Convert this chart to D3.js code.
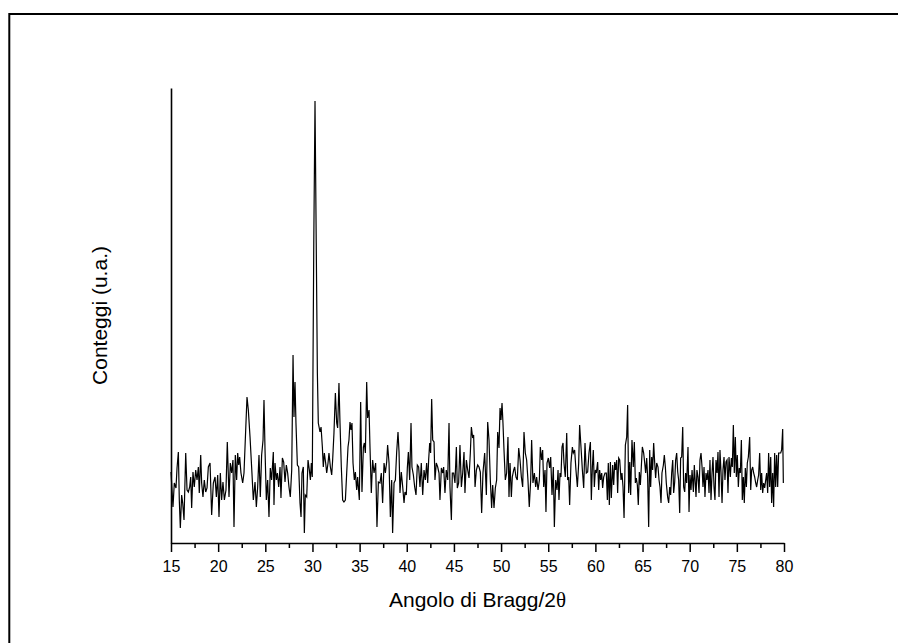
<!DOCTYPE html>
<html>
<head>
<meta charset="utf-8">
<script src="https://cdn.jsdelivr.net/npm/d3@7"></script>
<style>
  body { margin: 0; background: #fff; }
  svg { display: block; font-family: Arial, "Liberation Sans", sans-serif; }
</style>
</head>
<body>
<svg id="svg1" width="898" height="643"></svg>
<script>
// XRD pattern (2theta in degrees, counts in arbitrary units)
var twoTheta = [
  15.00,15.21,15.35,15.53,15.64,15.78,15.88,15.99,16.13,16.24,16.38,16.56,16.70,16.84,16.98,17.09,17.19,17.33,17.47,17.62,
  17.76,17.90,18.00,18.15,18.25,18.39,18.53,18.68,18.82,18.96,19.14,19.31,19.49,19.67,19.81,19.95,20.09,20.23,20.37,20.51,
  20.66,20.83,20.97,21.15,21.29,21.43,21.57,21.68,21.82,21.96,22.07,22.18,22.28,22.42,22.60,22.74,22.92,23.06,23.20,23.38,
  23.55,23.73,23.91,24.05,24.19,24.33,24.47,24.61,24.76,24.86,24.97,25.11,25.25,25.39,25.53,25.67,25.85,25.92,26.03,26.17,
  26.28,26.42,26.56,26.66,26.81,26.95,27.09,27.23,27.37,27.51,27.65,27.80,27.94,28.04,28.15,28.25,28.40,28.54,28.68,28.79,
  28.89,29.03,29.14,29.24,29.39,29.53,29.67,29.78,29.88,29.98,30.14,30.27,30.40,30.52,30.62,30.80,30.91,31.05,31.15,31.26,
  31.40,31.51,31.65,31.75,31.90,32.04,32.14,32.28,32.43,32.57,32.67,32.81,32.92,33.06,33.20,33.34,33.49,33.63,33.77,33.87,
  33.98,34.09,34.19,34.30,34.44,34.55,34.69,34.79,34.97,35.11,35.25,35.40,35.50,35.61,35.75,35.85,36.00,36.10,36.24,36.38,
  36.53,36.70,36.84,36.99,37.16,37.30,37.44,37.59,37.73,37.87,37.97,38.12,38.26,38.40,38.50,38.65,38.79,38.93,39.07,39.18,
  39.28,39.42,39.57,39.71,39.81,39.95,40.06,40.17,40.31,40.45,40.55,40.70,40.84,40.98,41.12,41.26,41.40,41.54,41.69,41.83,
  41.97,42.11,42.22,42.32,42.43,42.53,42.64,42.75,42.89,42.99,43.13,43.28,43.42,43.52,43.67,43.81,43.91,44.05,44.19,44.34,
  44.48,44.58,44.73,44.83,44.97,45.11,45.26,45.36,45.50,45.64,45.79,45.93,46.07,46.17,46.32,46.46,46.60,46.74,46.85,46.99,
  47.09,47.24,47.38,47.52,47.66,47.80,47.94,48.08,48.26,48.44,48.58,48.72,48.86,49.00,49.11,49.25,49.39,49.53,49.64,49.78,
  49.89,49.99,50.10,50.20,50.31,50.45,50.59,50.73,50.84,50.95,51.09,51.19,51.34,51.44,51.58,51.72,51.87,52.01,52.15,52.29,
  52.43,52.57,52.71,52.85,52.99,53.14,53.24,53.38,53.53,53.67,53.77,53.92,54.06,54.16,54.30,54.41,54.52,54.66,54.76,54.87,
  55.01,55.15,55.26,55.40,55.54,55.65,55.79,55.93,56.04,56.14,56.25,56.35,56.46,56.57,56.67,56.81,56.96,57.06,57.17,57.27,
  57.41,57.56,57.66,57.80,57.94,58.09,58.23,58.33,58.48,58.62,58.76,58.90,59.04,59.18,59.32,59.47,59.57,59.68,59.78,59.89,
  60.00,60.10,60.24,60.35,60.45,60.56,60.67,60.77,60.88,61.02,61.16,61.27,61.37,61.48,61.59,61.69,61.83,61.94,62.05,62.15,
  62.26,62.36,62.47,62.58,62.72,62.82,62.93,63.04,63.18,63.32,63.42,63.53,63.64,63.74,63.88,64.02,64.13,64.24,64.34,64.45,
  64.55,64.66,64.77,64.87,64.98,65.12,65.23,65.33,65.44,65.54,65.65,65.76,65.86,65.97,66.07,66.18,66.29,66.39,66.50,66.64,
  66.75,66.85,66.96,67.06,67.21,67.31,67.42,67.52,67.66,67.77,67.88,67.98,68.09,68.20,68.30,68.41,68.51,68.62,68.73,68.83,
  68.94,69.04,69.15,69.26,69.36,69.47,69.57,69.68,69.82,69.93,70.03,70.14,70.25,70.39,70.49,70.67,70.77,70.88,70.99,71.09,
  71.20,71.31,71.41,71.52,71.62,71.73,71.83,71.94,72.05,72.15,72.26,72.37,72.47,72.58,72.68,72.79,72.90,73.00,73.11,73.21,
  73.32,73.43,73.53,73.64,73.74,73.85,73.96,74.06,74.17,74.31,74.42,74.52,74.63,74.73,74.84,74.95,75.05,75.16,75.26,75.37,
  75.48,75.58,75.69,75.79,75.90,76.01,76.11,76.22,76.36,76.47,76.57,76.68,76.78,76.89,77.00,77.10,77.21,77.31,77.42,77.53,
  77.63,77.74,77.84,77.95,78.06,78.16,78.27,78.37,78.48,78.59,78.69,78.80,78.90,79.01,79.12,79.22,79.33,79.43,79.54,79.65,
  79.75,79.86,79.93
];
var counts = [
  71,36,60,55,75,91,43,15,48,40,23,90,53,51,56,66,35,71,56,73,
  63,76,50,88,60,46,63,51,55,76,80,28,60,66,46,68,26,70,43,61,
  43,53,101,46,80,70,83,16,88,63,90,78,86,70,60,70,113,146,133,106,
  76,43,61,36,56,88,46,88,103,143,93,43,63,26,75,63,91,38,80,63,
  70,56,76,45,85,81,61,78,70,56,46,73,188,126,161,120,78,76,40,26,
  70,76,10,48,46,83,73,63,80,66,300,442,300,170,120,111,116,96,76,90,
  80,70,80,90,76,68,83,110,150,120,115,160,120,76,43,41,43,70,96,103,
  121,113,120,80,63,71,53,66,43,141,51,96,100,90,161,125,133,96,50,83,
  70,80,16,61,60,70,40,80,70,81,98,80,26,63,10,60,63,91,111,91,
  50,71,56,40,51,48,75,91,63,120,76,68,56,48,78,76,56,80,48,73,
  63,80,60,83,100,90,144,103,101,63,80,76,70,43,75,70,76,50,73,63,
  120,56,23,70,70,60,96,55,60,98,56,70,91,50,83,73,65,90,116,105,
  108,56,73,78,76,71,30,70,90,48,121,103,63,35,58,35,55,63,111,95,
  135,123,140,120,93,63,70,106,46,80,46,66,73,76,66,63,95,83,66,56,
  111,90,83,63,36,63,103,60,70,56,66,53,63,96,83,93,56,73,31,80,
  85,75,86,48,76,16,63,53,73,43,70,66,96,100,80,66,110,63,66,38,
  80,96,90,93,73,56,80,118,95,73,55,100,70,71,90,101,43,76,93,56,
  73,70,81,53,73,63,70,55,66,70,70,43,80,38,81,45,78,58,81,73,
  83,50,85,83,63,70,56,25,98,106,138,50,81,48,103,76,101,60,65,58,
  38,71,58,76,96,90,80,70,85,66,16,93,56,86,73,100,80,65,80,76,
  63,56,40,70,78,88,76,60,46,40,56,48,70,83,50,61,83,90,71,63,
  30,85,86,116,56,51,70,60,96,31,68,53,73,51,78,46,73,66,50,83,
  90,76,56,76,46,70,63,73,50,83,43,70,86,56,43,83,70,91,46,93,
  71,40,73,86,63,81,83,50,86,66,85,76,118,70,106,66,88,56,75,70,
  103,43,66,40,75,56,80,86,106,53,73,76,70,66,60,56,63,68,90,53,
  70,50,60,55,63,70,50,90,56,86,40,70,36,90,56,88,56,90,90,90,
  93,114,60
];
var majorTicks = [15,20,25,30,35,40,45,50,55,60,65,70,75,80];
var minorTicks = [17.5,22.5,27.5,32.5,37.5,42.5,47.5,52.5,57.5,62.5,67.5,72.5,77.5];
var xTitle = "Angolo di Bragg/2";
var yTitle = "Conteggi (u.a.)";

var data = twoTheta.map(function(t, i) { return { t: t, c: counts[i] }; });

const marginLeft = 171;
const marginTop = 88;
const width = 613;
const height = 455;
var svg = d3.select('#svg1');

// frame round the figure (only top and left edges fall inside the picture)
svg.append('path')
    .attr('d', 'M9.3,660V14H920')
    .attr('fill', 'none')
    .attr('stroke', '#000')
    .attr('stroke-width', 2);

var x = d3.scaleLinear().domain([15, 80]).range([0, width]);
var y = d3.scaleLinear().domain([0, 455]).range([height, 0]);

var g = svg.append('g')
    .attr('transform', 'translate(' + marginLeft + ',' + marginTop + ')');

var line = d3.line()
    .x(function(d) { return x(d.t); })
    .y(function(d) { return y(d.c); });

g.append('path')
    .datum(data)
    .attr('d', line)
    .attr('fill', 'none')
    .attr('stroke', '#000')
    .attr('stroke-width', 1.2)
    .attr('stroke-linejoin', 'miter');

// y axis: plain line, no ticks
g.append('g')
    .call(d3.axisLeft(y).tickValues([]).tickSizeOuter(0))
    .call(function(a) { a.select('.domain').attr('stroke-width', 1.6); });

// minor ticks
g.append('g')
    .attr('transform', 'translate(0,' + height + ')')
    .call(d3.axisBottom(x).tickValues(minorTicks).tickSize(5).tickSizeOuter(0).tickFormat(''))
    .call(function(a) {
        a.select('.domain').remove();
        a.selectAll('line').attr('stroke-width', 1.5);
    });

// major ticks + labels
g.append('g')
    .attr('transform', 'translate(0,' + height + ')')
    .call(d3.axisBottom(x).tickValues(majorTicks).tickSize(9).tickPadding(9).tickSizeOuter(0).tickFormat(d3.format('d')))
    .call(function(a) {
        a.select('.domain').attr('stroke-width', 1.6);
        a.selectAll('line').attr('stroke-width', 1.5);
        a.selectAll('text')
            .attr('font-size', 16)
            .attr('font-family', 'Arial, "Liberation Sans", sans-serif')
            .attr('fill', '#000');
    });

// axis titles
var xt = svg.append('text')
    .attr('x', marginLeft + width / 2)
    .attr('y', 607)
    .attr('text-anchor', 'middle')
    .attr('font-size', 21)
    .text(xTitle);
xt.append('tspan')
    .attr('font-family', '"Liberation Serif", "DejaVu Serif", serif')
    .text('\u03b8');

svg.append('text')
    .attr('transform', 'translate(107,' + (marginTop + height / 2) + ') rotate(-90)')
    .attr('text-anchor', 'middle')
    .attr('font-size', 21)
    .text(yTitle);
</script>
</body>
</html>
